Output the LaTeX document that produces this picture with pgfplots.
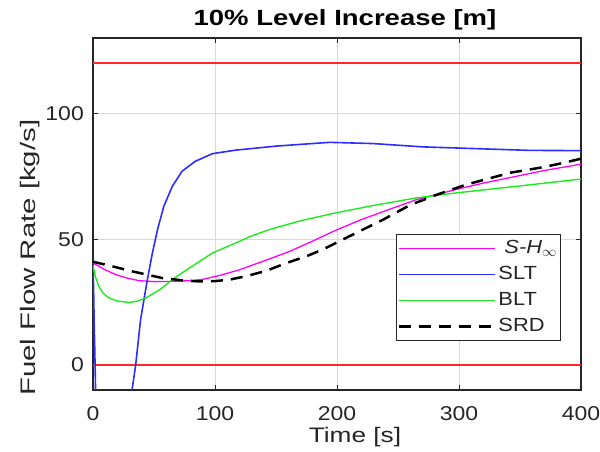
\documentclass[border=0pt]{standalone}
\usepackage{pgfplots}
\pgfplotsset{compat=1.18}
\usepackage{fontspec}
\setmainfont{Liberation Sans}
\newfontfamily\tickfont{Liberation Sans}[FakeStretch=1.15]
\newfontfamily\labfont{Liberation Sans}[FakeStretch=1.25]
\newfontfamily\ylabfont{Liberation Sans}[FakeStretch=1.4]
\newfontfamily\legfont{Liberation Sans}[FakeStretch=1.15]
\definecolor{mred}{RGB}{255,40,40}
\definecolor{mblue}{RGB}{45,45,255}
\definecolor{mgreen}{RGB}{30,235,30}
\definecolor{mmag}{RGB}{255,0,255}
\definecolor{frame}{gray}{0.15}
\begin{document}
\begin{tikzpicture}
\begin{axis}[
  name=ax,
  scale only axis=true,
  width=488bp, height=352bp,
  xmin=0, xmax=400, ymin=-10, ymax=130,
  xtick={0,100,200,300,400},
  ytick={0,50,100},
  tick align=inside,
  major tick length=5bp,
  tick style={frame, line width=0.6bp},
  axis line style={frame, line width=1.1bp},
  grid=major,
  major grid style={gray!30, line width=0.7bp},
  /pgf/number format/assume math mode=true,
  ticklabel style={font=\tickfont\fontsize{20bp}{24bp}\selectfont, text=black!85},
  xticklabel style={anchor=base, yshift=-31bp},
  yticklabel style={anchor=east, inner sep=0pt, xshift=-9bp},
  title={10\% Level Increase [m]},
  title style={font=\labfont\bfseries\fontsize{22bp}{26bp}\selectfont, at={(axis description cs:0.5,1)}, anchor=base, yshift=7bp, xshift=8bp},
  xlabel={Time [s]},
  xlabel style={font=\labfont\fontsize{21bp}{25bp}\selectfont, text=black!85, at={(axis description cs:0.5,0)}, anchor=base, yshift=-53bp, xshift=18bp},
  ylabel={Fuel Flow Rate [kg/s]},
  ylabel style={font=\ylabfont\fontsize{21bp}{26bp}\selectfont, text=black!85, at={(axis description cs:-0.118,0.376)}, anchor=base},
  legend cell align=left,
  legend style={at={(axis description cs:0.96,0.139)}, anchor=south east,
    draw=frame, line width=1bp, fill=white, inner xsep=2bp, inner ysep=1bp,
    font=\legfont\fontsize{19bp}{22bp}\selectfont, text=black!85,
    nodes={inner ysep=4bp, text height=14bp, text depth=4bp},
    /tikz/every even column/.append style={column sep=0bp}},
  legend image code/.code={\draw[#1] (0bp,0bp) -- (96bp,0bp);},
]
\addplot[mred, line width=1.3bp, forget plot] coordinates {(0,0) (400,0)};
\addplot[mred, line width=1.3bp, forget plot] coordinates {(0,120) (400,120)};

\addplot[mmag, line width=1.3bp] coordinates {
(0,40.5) (5,39.2) (10,37.8) (18.6,35.9) (28,34.5) (37.8,33.5) (50,33.1) (65,33.2) (80,33.5) (90,34.0) (105,35.7) (120,37.8) (140,41.3) (161,45.1) (180,49.2) (197,53.1) (220,57.8) (245,62.2) (265,65.7) (298,69.8) (320,72.3) (347,75.0) (370,77.3) (400,79.8)};
\addlegendentry{\hspace{6bp}\textit{S-H}$_{\infty}$}

\addplot[mblue, line width=1.6bp] coordinates {
(0,40) (0.5,30) (1,16) (1.5,5) (2.5,-20) (4,-60) (25,-45) (29,-22) (32,-10) (35,0) (39,18) (44.6,34) (48.7,44.5) (53,54) (58,63) (65,71) (73,77) (84,81) (98,84) (117,85.4) (150,87) (194,88.5) (230,88) (270,86.7) (320,85.9) (358,85.3) (400,85.2)};
\addlegendentry{SLT}

\addplot[mgreen, line width=1.4bp] coordinates {
(0,39.5) (2,35) (4.9,31.2) (8,28.6) (13.1,26.6) (20,25.4) (29.6,24.8) (36,25.3) (43.3,26.6) (55,30) (65,33.9) (78.9,38.5) (98,44.5) (120,49.1) (128,50.9) (144.6,53.8) (170,57.3) (196.6,60.2) (230,63.4) (265,66.4) (298,68.4) (347,71.0) (400,73.9)};
\addlegendentry{BLT}

\addplot[black, line width=2.5bp, dash pattern=on 12bp off 8bp] coordinates {
(0,41) (15,39.3) (32,37.2) (57,34.5) (75,33.5) (87,33.2) (100,33.3) (112,33.9) (125,35.2) (142,37.4) (158,40.4) (175,43.2) (188,45.8) (210,51.1) (238,57.8) (260,63.6) (282,67.7) (306,71.7) (342,76.4) (370,78.7) (388,80.6) (400,82)};
\addlegendentry{SRD}
\end{axis}
\pgfresetboundingbox
\path[use as bounding box] ([shift={(-93bp,-62bp)}]ax.south west) rectangle ([shift={(19bp,38bp)}]ax.north east);
\end{tikzpicture}
\end{document}
